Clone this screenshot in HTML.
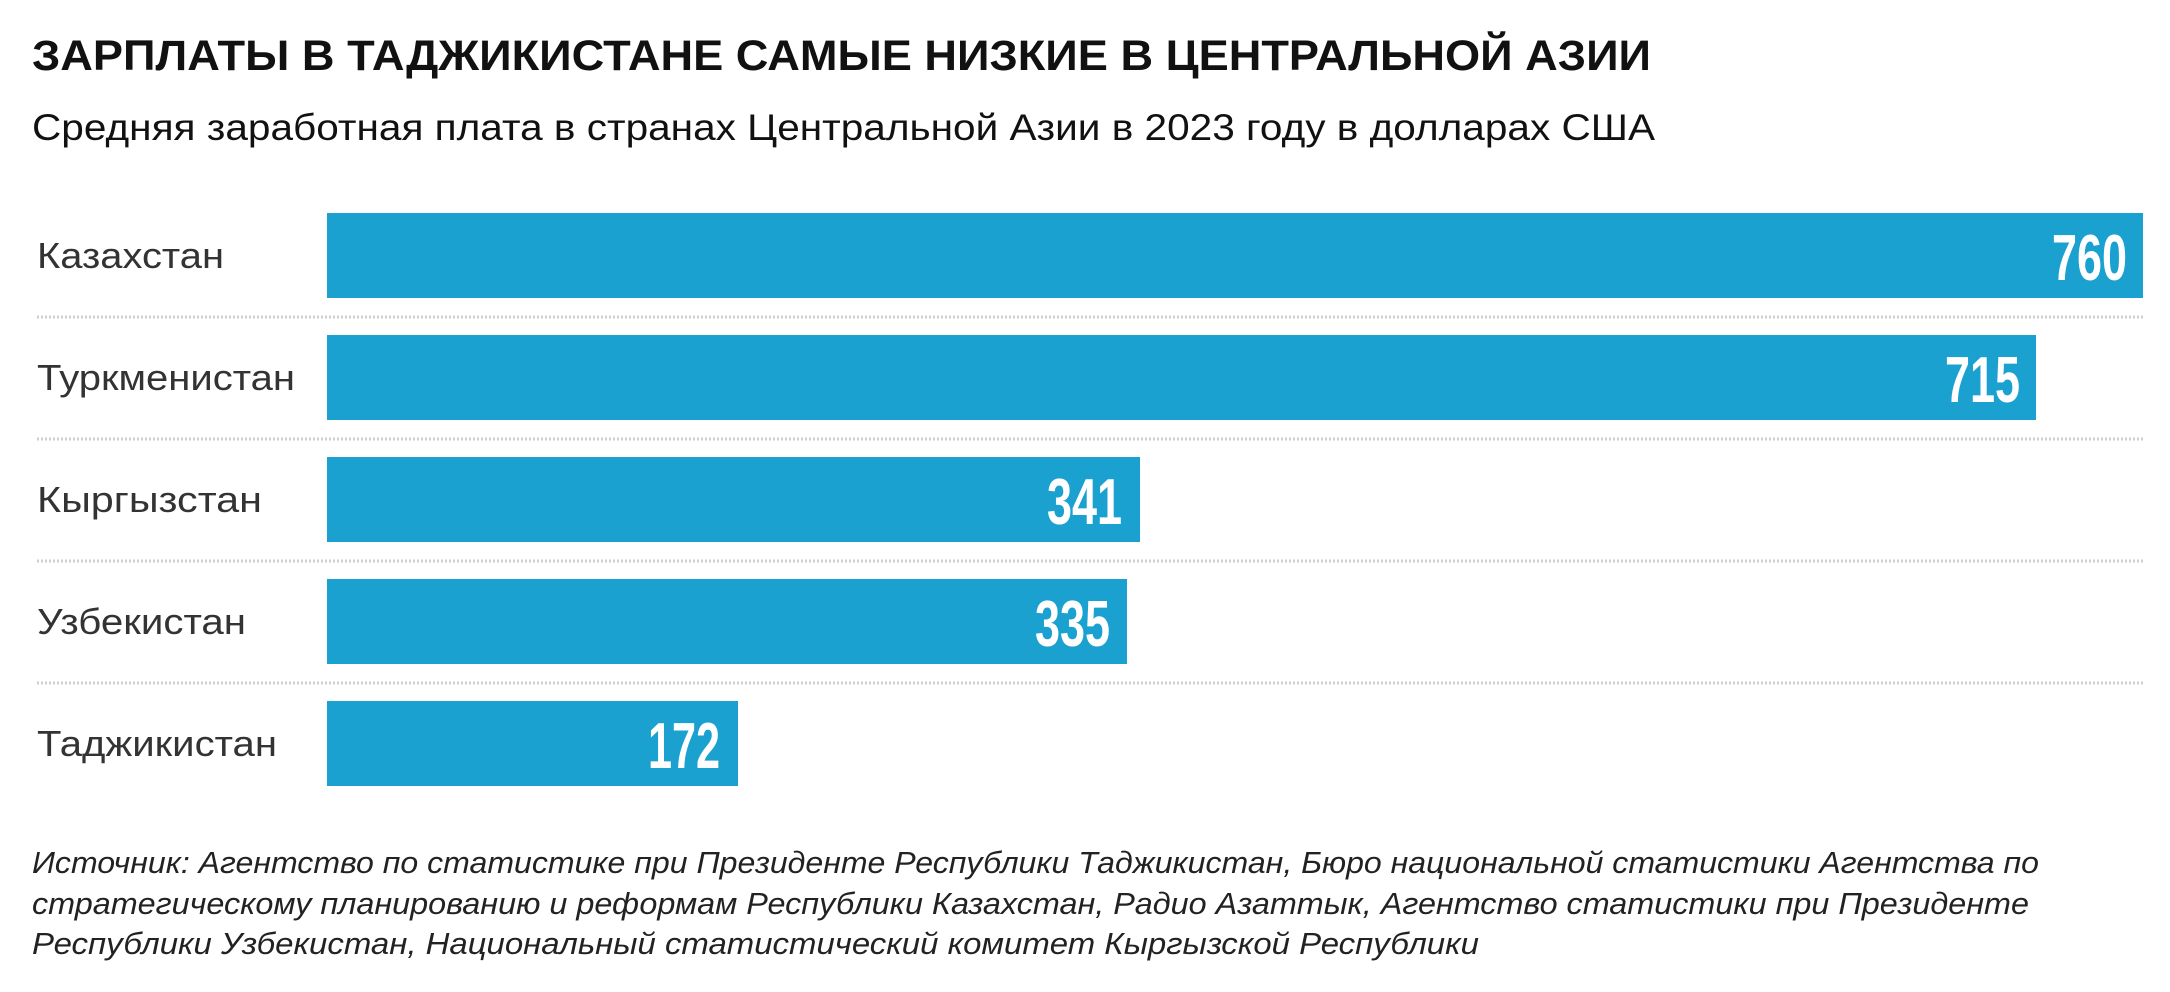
<!DOCTYPE html>
<html><head><meta charset="utf-8"><style>html,body{margin:0;padding:0;background:#fff}svg{display:block}</style></head>
<body>
<svg width="2170" height="992" viewBox="0 0 2170 992" xmlns="http://www.w3.org/2000/svg" font-family="Liberation Sans, sans-serif">
<text x="32" y="70" font-size="43" font-weight="bold" fill="#111" textLength="1619" lengthAdjust="spacingAndGlyphs">ЗАРПЛАТЫ В ТАДЖИКИСТАНЕ САМЫЕ НИЗКИЕ В ЦЕНТРАЛЬНОЙ АЗИИ</text>
<text x="32" y="140" font-size="37" fill="#111" textLength="1623" lengthAdjust="spacingAndGlyphs">Средняя заработная плата в странах Центральной Азии в 2023 году в долларах США</text>
<g stroke="#cfcfcf" stroke-width="3" stroke-dasharray="2 2">
<line x1="37" y1="317" x2="2143" y2="317"/><line x1="37" y1="439" x2="2143" y2="439"/><line x1="37" y1="561" x2="2143" y2="561"/><line x1="37" y1="683" x2="2143" y2="683"/>
</g>
<g fill="#1ba1cf">
<rect x="327" y="213" width="1816" height="85"/>
<rect x="327" y="335" width="1709" height="85"/>
<rect x="327" y="457" width="813" height="85"/>
<rect x="327" y="579" width="800" height="85"/>
<rect x="327" y="701" width="411" height="85"/>
</g>
<g font-size="36" fill="#333">
<text x="37" y="268" textLength="187" lengthAdjust="spacingAndGlyphs">Казахстан</text>
<text x="37" y="390" textLength="258" lengthAdjust="spacingAndGlyphs">Туркменистан</text>
<text x="37" y="512" textLength="225" lengthAdjust="spacingAndGlyphs">Кыргызстан</text>
<text x="37" y="634" textLength="209" lengthAdjust="spacingAndGlyphs">Узбекистан</text>
<text x="37" y="756" textLength="240" lengthAdjust="spacingAndGlyphs">Таджикистан</text>
</g>
<g font-size="65" font-weight="bold" fill="#fff" text-anchor="end">
<text x="2127" y="280" textLength="75" lengthAdjust="spacingAndGlyphs">760</text>
<text x="2020" y="402" textLength="75" lengthAdjust="spacingAndGlyphs">715</text>
<text x="1122" y="524" textLength="75" lengthAdjust="spacingAndGlyphs">341</text>
<text x="1110" y="646" textLength="75" lengthAdjust="spacingAndGlyphs">335</text>
<text x="720" y="768" textLength="72" lengthAdjust="spacingAndGlyphs">172</text>
</g>
<g font-size="31" font-style="italic" fill="#222">
<text x="32" y="873" textLength="2007" lengthAdjust="spacingAndGlyphs">Источник: Агентство по статистике при Президенте Республики Таджикистан, Бюро национальной статистики Агентства по</text>
<text x="32" y="914" textLength="1997" lengthAdjust="spacingAndGlyphs">стратегическому планированию и реформам Республики Казахстан, Радио Азаттык, Агентство статистики при Президенте</text>
<text x="32" y="954" textLength="1447" lengthAdjust="spacingAndGlyphs">Республики Узбекистан, Национальный статистический комитет Кыргызской Республики</text>
</g>
</svg>
</body></html>
